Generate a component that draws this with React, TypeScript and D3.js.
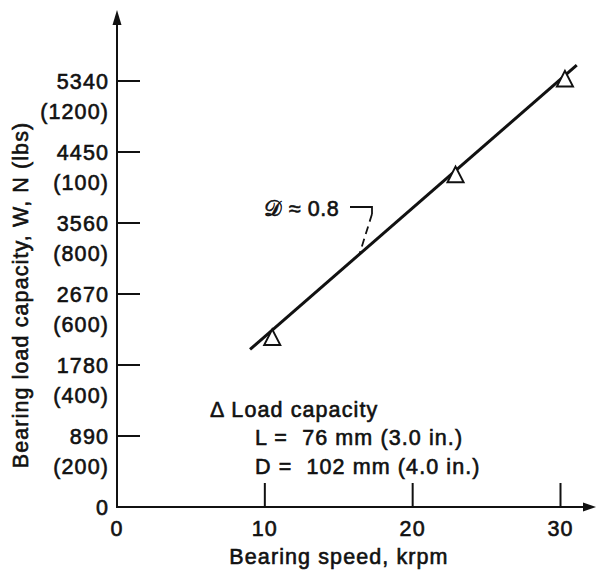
import React from "react";
import * as d3 from "d3";

// Data
const speedKrpm = [10.5, 22.9, 30.3];
const loadN = [2120, 4160, 5360];
const fitSpeed = [9.0, 31.1];
const fitLoad = [1975, 5540];
const xTicks = [10, 20, 30];
const yTicksN = [890, 1780, 2670, 3560, 4450, 5340];
const yTicksLbs = ["(200)", "(400)", "(600)", "(800)", "(100)", "(1200)"];
const annotationSpeed = 16.4;
const annotationLabel = "\u{1D49F} \u2248 0.8";
const legendLines = ["Δ Load capacity", "L =  76 mm (3.0 in.)", "D =  102 mm (4.0 in.)"];

const W = 597;
const H = 571;
const FONT = "'Liberation Sans', Arial, Helvetica, sans-serif";

export default function App() {
  const x = d3.scaleLinear().domain([0, 30]).range([117, 560.5]);
  const y = d3.scaleLinear().domain([0, 5340]).range([507, 81]);
  const x0 = x(0);
  const y0 = y(0);

  const fitLine = d3
    .line<number>()
    .x((_, i) => x(fitSpeed[i]))
    .y((d) => y(d));

  const fitAt = (s: number) =>
    fitLoad[0] + ((s - fitSpeed[0]) * (fitLoad[1] - fitLoad[0])) / (fitSpeed[1] - fitSpeed[0]);
  const ax = x(annotationSpeed);
  const ay = y(fitAt(annotationSpeed));

  const tri = (cx: number, cy: number) =>
    `M${cx},${cy - 8.5}L${cx + 8},${cy + 7}L${cx - 8},${cy + 7}Z`;

  const textStyle: React.CSSProperties = {
    fontFamily: FONT,
    fontSize: 21.5,
    letterSpacing: 1.1,
    fill: "#111",
    stroke: "#111",
    strokeWidth: 0.6,
  };

  return (
    <svg
      width={W}
      height={H}
      viewBox={`0 0 ${W} ${H}`}
      style={{ position: "absolute", left: 0, top: 0, background: "#fff" }}
    >
      <rect x={0} y={0} width={W} height={H} fill="#fff" />
      {/* Axes */}
      <line x1={x0} y1={y0 + 1} x2={x0} y2={22} stroke="#111" strokeWidth={2} />
      <path d={`M${x0},10L${x0 + 4.5},25L${x0 - 4.5},25Z`} fill="#111" />
      <line x1={x0 - 1} y1={y0} x2={585} y2={y0} stroke="#111" strokeWidth={2} />
      <path d={`M596,${y0}L583,${y0 - 4.5}L583,${y0 + 4.5}Z`} fill="#111" />

      {/* Y ticks */}
      {yTicksN.map((v, i) => (
        <g key={v}>
          <line x1={x0} x2={x0 + 23} y1={y(v)} y2={y(v)} stroke="#111" strokeWidth={2} />
          <text x={109} y={y(v) + 7.5} textAnchor="end" style={textStyle}>
            {v}
          </text>
          <text x={109} y={y(v) + 37.5} textAnchor="end" style={textStyle}>
            {yTicksLbs[i]}
          </text>
        </g>
      ))}
      <text x={109} y={y0 + 7.5} textAnchor="end" style={textStyle}>
        0
      </text>

      {/* X ticks */}
      {xTicks.map((v) => (
        <g key={v}>
          <line x1={x(v)} x2={x(v)} y1={y0} y2={y0 - 24} stroke="#111" strokeWidth={2} />
          <text x={x(v)} y={y0 + 29} textAnchor="middle" style={textStyle}>
            {v}
          </text>
        </g>
      ))}
      <text x={x0} y={y0 + 29} textAnchor="middle" style={textStyle}>
        0
      </text>

      {/* Axis titles */}
      <text x={339} y={564} textAnchor="middle" style={textStyle}>
        Bearing speed, krpm
      </text>
      <text
        transform={`translate(28,295) rotate(-90)`}
        textAnchor="middle"
        style={textStyle}
      >
        Bearing load capacity, W, N (lbs)
      </text>

      {/* Fit line */}
      <path d={fitLine(fitLoad) || ""} fill="none" stroke="#111" strokeWidth={3} />

      {/* Data markers */}
      {speedKrpm.map((s, i) => (
        <path
          key={i}
          d={tri(x(s), y(loadN[i]))}
          fill="#fff"
          stroke="#111"
          strokeWidth={2}
        />
      ))}

      {/* Annotation */}
      <text x={264} y={216} style={{ ...textStyle, letterSpacing: 0.5 }}>
        {annotationLabel}
      </text>
      <path
        d={`M350,207H372V214`}
        fill="none"
        stroke="#111"
        strokeWidth={1.8}
      />
      <line
        x1={372}
        y1={214}
        x2={ax}
        y2={ay}
        stroke="#111"
        strokeWidth={1.8}
        strokeDasharray="8,5"
      />

      {/* Legend text */}
      <text x={210} y={417} style={textStyle} xmlSpace="preserve">
        {legendLines[0]}
      </text>
      <text x={255} y={445} style={{ ...textStyle, whiteSpace: "pre" }} xmlSpace="preserve">
        {legendLines[1]}
      </text>
      <text x={255} y={474} style={{ ...textStyle, whiteSpace: "pre" }} xmlSpace="preserve">
        {legendLines[2]}
      </text>
    </svg>
  );
}
